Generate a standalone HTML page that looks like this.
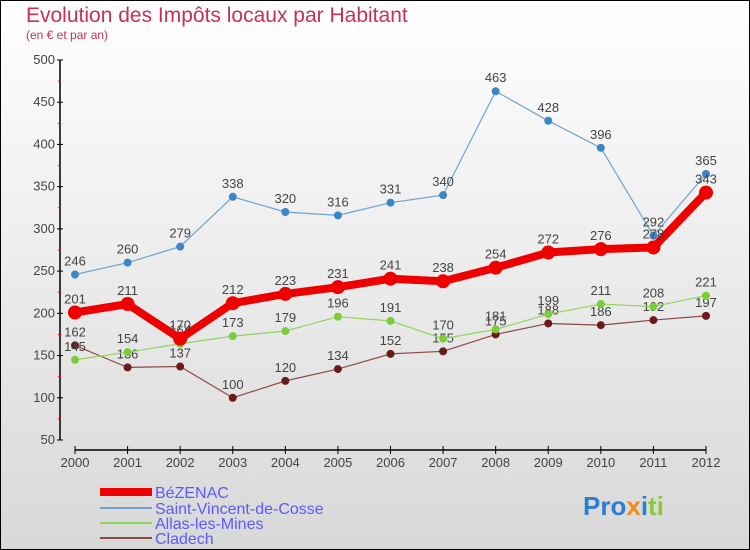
<!DOCTYPE html>
<html><head><meta charset="utf-8"><style>
body{margin:0;}
#c{width:750px;height:550px;position:relative;overflow:hidden;font-family:"Liberation Sans",sans-serif;}
</style></head><body>
<div id="c">
<svg id="svg" width="750" height="550" xmlns="http://www.w3.org/2000/svg">
<defs><linearGradient id="bg" x1="0" y1="0" x2="0" y2="1"><stop offset="0" stop-color="#ffffff"/><stop offset="1" stop-color="#d8d8d8"/></linearGradient></defs>
<rect x="0.5" y="0.5" width="749" height="549" fill="url(#bg)" stroke="#000"/>
<text x="26" y="22" font-size="21" fill="#c8305a">Evolution des Impôts locaux par Habitant</text>
<text x="26" y="39" font-size="12" fill="#c8305a">(en € et par an)</text>
<g id="axes"></g><g id="series"></g>
<g>
<rect x="100" y="488" width="52" height="8" fill="#e00"/>
<text x="155" y="498" font-size="16" fill="#5a5aff">BéZENAC</text>
<line x1="100" y1="508" x2="152" y2="508" stroke="#6fa3cf" stroke-width="2"/>
<text x="155" y="514" font-size="16" fill="#5a5aff">Saint-Vincent-de-Cosse</text>
<line x1="100" y1="523" x2="152" y2="523" stroke="#8ed65a" stroke-width="2"/>
<text x="155" y="529" font-size="16" fill="#5a5aff">Allas-les-Mines</text>
<line x1="100" y1="538" x2="152" y2="538" stroke="#8a4a4a" stroke-width="2"/>
<text x="155" y="544" font-size="16" fill="#5a5aff">Cladech</text>
</g>
<text x="583" y="515" font-size="26" font-weight="bold"><tspan fill="#2a7fd0">Pro</tspan><tspan fill="#f08a1c">x</tspan><tspan fill="#2a7fd0">i</tspan><tspan fill="#8ac83c">ti</tspan></text>
</svg>
</div>
<script>
const years=[2000,2001,2002,2003,2004,2005,2006,2007,2008,2009,2010,2011,2012];
const yTicks=[50,100,150,200,250,300,350,400,450,500];
const bezenac=[201,211,170,212,223,231,241,238,254,272,276,278,343];
const saintVincent=[246,260,279,338,320,316,331,340,463,428,396,292,365];
const allas=[145,154,164,173,179,196,191,170,181,199,211,208,221];
const cladech=[162,136,137,100,120,134,152,155,175,188,186,192,197];
const NS="http://www.w3.org/2000/svg";
function X(i){return 75+i*(706-75)/12;}
function Y(v){return 440-(v-50)*380/450;}
function mk(t,a,p){const e=document.createElementNS(NS,t);for(const k in a)e.setAttribute(k,a[k]);p.appendChild(e);return e;}
const ax=document.getElementById('axes');
const yl=mk('line',{x1:60,y1:60,x2:60,y2:440,stroke:'#000','stroke-width':1.5},ax);


const xl=mk('line',{x1:75,y1:450,x2:706,y2:450,stroke:'#000','stroke-width':1.5},ax);


yTicks.forEach((v,i)=>{
  mk('line',{x1:57,y1:Y(v),x2:63,y2:Y(v),stroke:'#000'},ax);
  if(i<yTicks.length-1)mk('line',{x1:58,y1:Y(v+25),x2:61,y2:Y(v+25),stroke:'#e00'},ax);
  const t=mk('text',{x:55,y:Y(v)+4,'font-size':13,fill:'#444','text-anchor':'end'},ax);
  t.textContent=v;
  
  
});
years.forEach((y,i)=>{
  mk('line',{x1:X(i),y1:446,x2:X(i),y2:454,stroke:'#000'},ax);
  const t=mk('text',{x:X(i),y:467,'font-size':13,fill:'#444','text-anchor':'middle'},ax);
  t.textContent=y;
  
  
});
const sg=document.getElementById('series');
function series(vals,color,dot,w,r,name){
  const g=mk('g',{},sg);
  
  
  mk('polyline',{points:vals.map((v,i)=>X(i)+','+Y(v)).join(' '),fill:'none',stroke:color,'stroke-width':w,'stroke-linejoin':'round'},g);
  vals.forEach((v,i)=>{
    const c=mk('circle',{cx:X(i),cy:Y(v),r:r,fill:dot},g);
    
    
    const t=mk('text',{x:X(i),y:Y(v)-9,'font-size':13,fill:'#444','text-anchor':'middle'},g);
    t.textContent=v;
    
    
  });
}
series(cladech,'#8a4a4a','#6a1a1a',1.2,4,'series-cladech');
series(allas,'#8ed65a','#7acc3a',1.2,4,'series-allas');
series(saintVincent,'#6fa3cf','#3a86c8',1.2,4,'series-saint-vincent');
series(bezenac,'#ee0000','#ee0000',8,7,'series-bezenac');
</script>
</body></html>
